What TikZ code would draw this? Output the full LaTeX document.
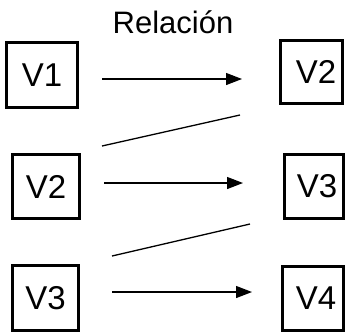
\documentclass[tikz,border=0pt]{standalone}
\usepackage{fontspec}
\setmainfont{Liberation Sans}
\usetikzlibrary{arrows.meta}
\begin{document}
\begin{tikzpicture}[x=1pt,y=-1pt,
  vbox/.style={draw=black,line width=3pt,fill=white,inner sep=0pt,
    font=\fontsize{33}{33}\selectfont},
  arr/.style={line width=1.3pt,-{Triangle[length=16pt,width=12pt]}},
  ln/.style={line width=1.3pt}]
\useasboundingbox (0,0) rectangle (347,333);
\node[vbox,minimum width=71pt,minimum height=65pt] (a1) at (42,75) {V1};
\node[vbox,minimum width=67pt,minimum height=64pt] (a2) at (46,186.5) {V2};
\node[vbox,minimum width=66pt,minimum height=65pt] (a3) at (45.5,298) {V3};
\node[vbox,minimum width=62pt,minimum height=63pt] (b1) at (311,72) {\hspace*{10pt}V2};
\node[vbox,minimum width=59pt,minimum height=64pt] (b2) at (314,186.5) {\hspace*{6pt}V3};
\node[vbox,minimum width=61pt,minimum height=64pt] (b3) at (313,298.5) {\hspace*{6pt}V4};
\node[anchor=base,font=\fontsize{31}{31}\selectfont,inner sep=0pt] (t) at (173,33) {Relación};
\coordinate (p1s) at (102,79); \coordinate (p1e) at (242,79);
\coordinate (p2s) at (104,183); \coordinate (p2e) at (243,183);
\coordinate (p3s) at (112,292); \coordinate (p3e) at (252,292);
\coordinate (d1s) at (102,146); \coordinate (d1e) at (240,115);
\coordinate (d2s) at (112,256); \coordinate (d2e) at (250,224);
\draw[arr] (p1s) -- (p1e);
\draw[arr] (p2s) -- (p2e);
\draw[arr] (p3s) -- (p3e);
\draw[ln] (d1s) -- (d1e);
\draw[ln] (d2s) -- (d2e);
\end{tikzpicture}
\end{document}
